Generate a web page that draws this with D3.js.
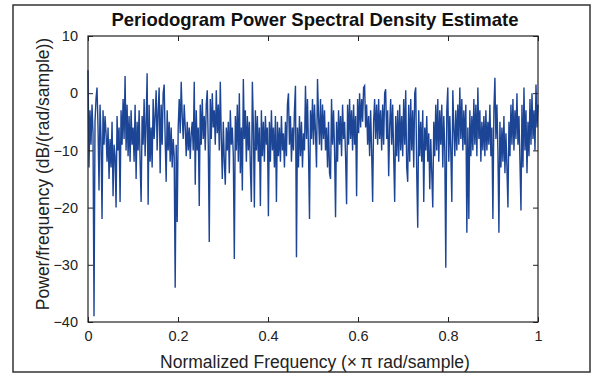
<!DOCTYPE html>
<html>
<head>
<meta charset="utf-8">
<script src="https://cdn.jsdelivr.net/npm/d3@7/dist/d3.min.js"></script>
<style>
  body { margin: 0; background: #fff; }
  text { font-family: Arial, "Liberation Sans", sans-serif; }
</style>
</head>
<body>
<svg id="chart" width="600" height="377"></svg>
<script>
// periodogram estimate, dB/(rad/sample)
const psdDb = [
  4, -13, -3, -9, -2, -7, -39, -5,
  -1, 1, -6, -17, -2, -8, -22, -3, -9, -4,
  -7, -12, -6, -15, -8, -13, -5, -18, -9, -11,
  -20, -4, -10, -6, -19, -3, -9, -1, -8, 3,
  -10, -2, -11, -4, -12, -3, -9, -6, -12, -2,
  -15, -5, -10, -3, -12, -19, -4, -9, -1, -11,
  -5, 3.5, -19.5, -2, -12, -6, -13, -1, -8, -4,
  0.5, -10, -3, 1, -14, -2, -9, 0, 1.5, -8,
  -15.5, -3, -10, -5, -12, -6, -13, -8, -11, -34,
  -9, -22.5, -6, -1, -7, 2, -4, -8, -2, -6,
  -11, -5, -10, -6, -11.5, -7, -5, -10, 2, -16,
  -3, -10, -6, -19.7, -2, -9, -1, -8, -4, -10,
  -2, 0.5, -9, -26, -1, -8, 0, -6, -3, -9,
  0.5, -7, -2, -10, 2, -8, -15, -5, -12, -16,
  -6, -10, -5, -14, -3, -9, -6, -11, -29, -4,
  -10, -2, -12, 0, -14, -6, -17, 2.5, -8, -3,
  -12, -4, -10, -5, -13, -19, 2, -6, -20, -3,
  -10, -4, -12, -6, -19.7, -3, -11, -5, -12, -4,
  -9, -6, -21.5, -5, -12, -3, -10, -6, -13, -4,
  -19, -5, -11, -6, -12, -4, -10, -7, -13, -5,
  -11, -2, 0, -9, -4, -12, -6, -10, -3, 1.3,
  -28.7, -6, -13, -4, -11, -5, -13, -7, -10, 1.3,
  -8, -1, -10, -22, -3, -8, -1, -9, -2, -7,
  -13, 2.5, -4, -9, -1, -10, -2, -8, -3, -10,
  -6, -13, -5, -14, -15, -1, -9, -3, -10, -21.7,
  -5, -12, -3, -9, -4, -11, -2, -8, -5, -11,
  -19.4, -2, -9, -1, -8, -3, -10, -2, -9, -4,
  -18, -1, -7, 0, -6, -1, -5, 1, 1.3, -6,
  -2, -9, -4, -11, -3, -10, -19, -5, -1, -8,
  -2, -9, -1, -8, -3, -10, -2, -9, 0, 0.7,
  -8, -3, -14.5, -6, -1, -9, -2, -11, -19, -4,
  -11, -3, -12, -2, -10, -4, -11, -1, -9, 0.5,
  -13, -15.5, -2, -12, -1, -10, -3, -13, 0, 1,
  -14, -23.5, -3, -11, -5, -12, -3, -19, -6, -10,
  -4, -12, -7, -16.8, -8, -14, -20, -5, -11, -2,
  -10, -1, -12, -3, -9, -2, -13, -4, -10, -30.5,
  -3, 1, -12, -4, -10, -19, 0.5, -6, -11, -3,
  -10, -2, -9, 1, -8, -1, -10, -3, -9, -2,
  -24.4, -6, -22, -3, -11, -4, -10, -1, -9, -2,
  -11, 1, -8, -3, -12, -5, -10, -4, -11, -3,
  -10, -5, -9, -2, -11, -6, -22, -3, 2.7, -8,
  -2, -10, -24.4, -5, -13, -6, -12, -4, -14, -7,
  -13, -20, -5, -11, -2, -9, -1, -10, -3, -8,
  0, -9, -4, -12, -20.5, -2, -13, 1, -10, -3,
  -14, -5, -11, -1, -9, 0, -8, -3, -10, 1.5, -6, -2
];
const xTicks = [0, 0.2, 0.4, 0.6, 0.8, 1];
const yTicks = [-40, -30, -20, -10, 0, 10];

const titleText = 'Periodogram Power Spectral Density Estimate';
const xLabel = 'Normalized Frequency  (\u00d7\u2009\u03c0 rad/sample)';
const yLabel = 'Power/frequency (dB/(rad/sample))';

const margin = { top: 36, right: 62, bottom: 55, left: 88 };
const W = 600, H = 377;
const width = W - margin.left - margin.right;
const height = H - margin.top - margin.bottom;

const svg = d3.select('#chart');

// outer figure frame
svg.append('rect')
  .attr('x', 13).attr('y', 5).attr('width', 577).attr('height', 367)
  .attr('fill', 'none').attr('stroke', '#333').attr('stroke-width', 1.5);

const g = svg.append('g')
  .attr('transform', 'translate(' + margin.left + ',' + margin.top + ')');

const x = d3.scaleLinear().domain([0, 1]).range([0, width]);
const y = d3.scaleLinear().domain([-40, 10]).range([height, 0]);

const freq = psdDb.map((d, i) => i / (psdDb.length - 1));

const line = d3.line()
  .x((d, i) => x(freq[i]))
  .y(d => y(d));

g.append('path')
  .datum(psdDb)
  .attr('d', line)
  .attr('fill', 'none')
  .attr('stroke', '#1c4596')
  .attr('stroke-width', 1.4)
  .attr('stroke-linejoin', 'miter');

// axes, ticks pointing inward like matlab
function styleAxis(sel) {
  sel.select('.domain').remove();
  sel.selectAll('.tick line').attr('stroke', '#222');
  sel.selectAll('.tick text').attr('fill', '#222').style('font-size', '14.5px');
}

g.append('g')
  .attr('transform', 'translate(0,' + height + ')')
  .call(d3.axisBottom(x).tickValues(xTicks).tickFormat(d3.format('~g')).tickSizeInner(-5).tickPadding(9))
  .call(styleAxis);
g.append('g')
  .call(d3.axisTop(x).tickValues(xTicks).tickFormat('').tickSizeInner(-5))
  .call(styleAxis);
g.append('g')
  .call(d3.axisLeft(y).tickValues(yTicks).tickSizeInner(-5).tickPadding(10))
  .call(styleAxis);
g.append('g')
  .attr('transform', 'translate(' + width + ',0)')
  .call(d3.axisRight(y).tickValues(yTicks).tickFormat('').tickSizeInner(-5))
  .call(styleAxis);

g.append('rect')
  .attr('width', width).attr('height', height)
  .attr('fill', 'none').attr('stroke', '#222').attr('stroke-width', 1.2);

// labels
svg.append('text')
  .attr('x', margin.left + width / 2 + 2).attr('y', 26)
  .attr('text-anchor', 'middle')
  .style('font-size', '18.5px').style('font-weight', 'bold')
  .attr('fill', '#111')
  .text(titleText);

svg.append('text')
  .attr('x', 315).attr('y', 368)
  .attr('text-anchor', 'middle')
  .style('font-size', '17.5px')
  .attr('fill', '#222')
  .text(xLabel);

svg.append('text')
  .attr('transform', 'translate(49,' + 174 + ') rotate(-90)')
  .attr('text-anchor', 'middle')
  .style('font-size', '17.5px')
  .attr('fill', '#222')
  .text(yLabel);
</script>
</body>
</html>
